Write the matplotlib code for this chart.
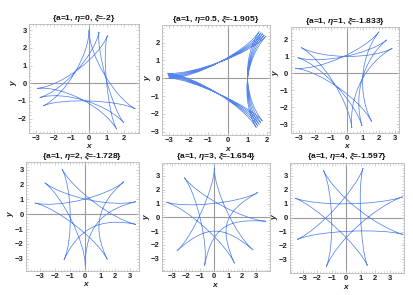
import numpy as np
import matplotlib
matplotlib.use("Agg")
import matplotlib.pyplot as plt
from matplotlib import transforms
from matplotlib.path import Path
from matplotlib.patches import PathPatch
from matplotlib.ticker import MultipleLocator

plt.rcParams['font.family'] = ['Liberation Sans', 'DejaVu Sans']
plt.rcParams['mathtext.fontset'] = 'custom'
plt.rcParams['mathtext.it'] = 'Liberation Sans:italic:bold'
plt.rcParams['mathtext.rm'] = 'Liberation Sans:bold'

# panel parameters
eta_labels = ["0", "0.5", "1", "2", "3", "4"]
xi_labels = ["-2", "-1.905", "-1.833", "-1.728", "-1.654", "-1.597"]

# cusps of each curve, sorted by polar angle
cusps_eta0_x = [1.05, 0.57, 0.0, -2.94, -2.8, -2.6, 1.57, 1.98, 2.63]
cusps_eta0_y = [2.7, 2.9, 3.0, -0.29, -0.81, -1.28, -2.59, -2.24, -1.45]

cusps_eta05_x = [1.94, 1.86, 1.78, 1.7, 1.6, -3.1, -3.08, -3.06, -3.04, -3.02,
                 1.45, 1.53, 1.6, 1.68, 1.76]
cusps_eta05_y = [2.36, 2.43, 2.5, 2.56, 2.62, 0.28, 0.21, 0.14, 0.07, 0.0,
                 -2.78, -2.7, -2.6, -2.5, -2.4]

cusps_eta1_x = [2.83, 2.48, 2.0, -2.87, -3.08, -3.23, 0.3, 0.94, 1.54]
cusps_eta1_y = [1.48, 1.98, 2.46, 1.53, 0.93, 0.3, -3.23, -3.11, -2.85]

cusps_eta2_x = [3.36, 2.58, -1.55, -2.7, -3.36, -1.42, 0.0, 1.47, 3.37]
cusps_eta2_y = [0.85, 2.2, 3.06, 2.13, 0.76, -3.08, -3.47, -3.05, -0.68]

cusps_eta3_x = [3.1, 0.0, -2.14, -3.43, -2.67, -0.7, 1.44, 2.77, 3.7]
cusps_eta3_y = [1.8, 3.57, 2.87, 1.1, -2.43, -3.5, -3.33, -2.36, -0.29]

cusps_eta4_x = [3.9, 1.17, -1.57, -3.52, -3.37, -1.37, 1.47, 3.95]
cusps_eta4_y = [1.5, 3.55, 3.4, 1.4, -1.57, -3.54, -3.45, -1.22]

# each cusp joins the cusp this many places further on
cusp_step = [3, 5, 3, 3, 3, 3]

x_ticks = [range(-3, 3), range(-3, 3), range(-3, 4), range(-3, 4), range(-3, 4), range(-3, 4)]
y_ticks = [range(-2, 4), range(-3, 3), range(-3, 3), range(-3, 4), range(-3, 4), range(-3, 4)]

cusps = [
    (cusps_eta0_x, cusps_eta0_y),
    (cusps_eta05_x, cusps_eta05_y),
    (cusps_eta1_x, cusps_eta1_y),
    (cusps_eta2_x, cusps_eta2_y),
    (cusps_eta3_x, cusps_eta3_y),
    (cusps_eta4_x, cusps_eta4_y),
]

# layout: axes boxes in pixels (left, top, right, bottom) and ranges
W, H = 413, 295
boxes = [
    (29, 24, 139, 133), (162, 25, 270, 135), (290.5, 27, 399, 133),
    (26, 162, 139, 271), (161.7, 162.5, 270, 271.3), (290, 162.5, 404, 273),
]
xlims = [(-3.41, 2.84), (-3.38, 2.15), (-3.53, 3.25), (-3.95, 3.58), (-3.76, 3.98), (-3.87, 3.99)]
ylims = [(-2.81, 3.35), (-3.19, 2.99), (-3.53, 2.74), (-3.83, 3.53), (-3.91, 3.97), (-3.98, 3.96)]

CURVE_COLOR = "#5584ec"
FRAME_COLOR = "#b8b8b8"
AXIS_COLOR = "#9a9a9a"
TEXT_COLOR = "#222222"


def draw_arcs(ax, xs, ys, step, r_inner=1.0):
    pts = np.column_stack([xs, ys])
    n = len(pts)
    verts, codes = [], []
    for k in range(n):
        p0, p2 = pts[k], pts[(k + step) % n]
        s = np.hypot(*(p0 + p2))
        f = (8 * r_inner / s - 1) / 3
        verts += [p0, f * p0, f * p2, p2]
        codes += [Path.MOVETO, Path.CURVE4, Path.CURVE4, Path.CURVE4]
    ax.add_patch(PathPatch(Path(verts, codes), fill=False, ec=CURVE_COLOR, lw=0.55))


fig = plt.figure(figsize=(W / 100, H / 100), dpi=100)

for i, (l, t, r, b) in enumerate(boxes):
    ax = fig.add_axes([l / W, 1 - b / H, (r - l) / W, (b - t) / H])
    ax.set_xlim(*xlims[i])
    ax.set_ylim(*ylims[i])

    ax.axhline(0, color=AXIS_COLOR, lw=0.8, zorder=1)
    ax.axvline(0, color=AXIS_COLOR, lw=0.8, zorder=1)
    draw_arcs(ax, *cusps[i], cusp_step[i])

    for sp in ax.spines.values():
        sp.set_color(FRAME_COLOR)
        sp.set_linewidth(0.6)
    ax.set_xticks(list(x_ticks[i]))
    ax.set_yticks(list(y_ticks[i]))
    ax.xaxis.set_minor_locator(MultipleLocator(0.2))
    ax.yaxis.set_minor_locator(MultipleLocator(0.2))
    ax.tick_params(which="both", direction="in", color=FRAME_COLOR, top=True, right=True,
                   labeltop=False, labelright=False)
    ax.tick_params(which="major", length=2.5, width=0.5, labelsize=5.5, pad=1.5,
                   labelcolor=TEXT_COLOR)
    ax.tick_params(which="minor", length=1.3, width=0.4)
    for lab in ax.get_xticklabels() + ax.get_yticklabels():
        lab.set_fontweight("bold")

    ax.set_title("{a=1, $\\eta$=%s, $\\xi$=%s}" % (eta_labels[i], xi_labels[i]),
                 fontsize=6.1, fontweight="bold", pad=1.0, color="#111111")

    tr_y = transforms.blended_transform_factory(ax.transAxes, ax.transData)
    ax.text(-0.135, 0, "y", transform=tr_y, rotation=90, ha="center", va="center",
            fontsize=6.0, fontstyle="italic", fontweight="bold", color=TEXT_COLOR)
    tr_x = transforms.blended_transform_factory(ax.transData, ax.transAxes)
    ax.text(0, -0.128, "x", transform=tr_x, ha="center", va="center",
            fontsize=6.0, fontstyle="italic", fontweight="bold", color=TEXT_COLOR)

fig.savefig("out.png", dpi=100)
